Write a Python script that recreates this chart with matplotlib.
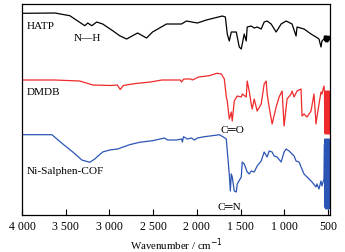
import matplotlib
matplotlib.use('Agg')
import matplotlib.pyplot as plt

# FTIR spectra (stacked, arbitrary units)
hatp_wn = [4000, 3624, 3453, 3282, 3248, 3202, 3145, 3077, 2963, 2883, 2803, 2678, 2575, 2507,
           2347, 2176, 2119, 1994, 1891, 1709, 1674, 1652, 1629, 1606, 1549, 1515, 1492, 1458,
           1435, 1424, 1378, 1344, 1310, 1264, 1230, 1196, 1150, 1093, 1036, 979, 911, 865, 854,
           774, 694, 637, 603, 580, 569, 546, 540, 535, 530, 525, 520, 515, 510, 505, 500, 495,
           490, 485, 480]
hatp_t = [200.7, 201, 198.3, 188.3, 191, 188.3, 192, 190, 183.3, 178.3, 175, 181, 176, 182,
          190, 190, 193, 191, 194, 198, 197, 180, 173, 182, 182, 167, 165, 180,
          173, 187, 188, 186, 187, 185, 192, 193, 190, 182, 190, 193, 190, 178, 187,
          185, 180, 177, 175, 167, 173, 175, 178, 173, 178, 172, 178, 173, 178, 172, 177, 173,
          178, 174, 177]

dmdb_wn = [4000, 3624, 3340, 3190, 2990, 2910, 2876, 2842, 2700, 2530, 2400, 2190, 2176, 2150,
           2070, 2050, 1980, 1860, 1770, 1720, 1686, 1663, 1652, 1629, 1606, 1595, 1572, 1538,
           1492, 1481, 1435, 1424, 1401, 1378, 1367, 1344, 1310, 1264, 1230, 1207, 1196, 1173,
           1139, 1093, 1059, 1025, 1002, 968, 922, 911, 888, 854, 808, 797, 774, 740, 694, 660,
           637, 626, 580, 569, 546, 540, 537, 534, 531, 528, 525, 522, 519, 516, 513, 510, 507,
           504, 501, 498, 495, 492, 489, 486, 483, 480]
dmdb_t = [134, 134, 133, 129, 128.5, 129, 124.5, 128.5, 130.5, 132, 134, 134, 132, 135,
          135, 134, 137, 138.3, 140.7, 140, 135, 117, 113, 95, 102, 93, 113, 118,
          117, 120, 117, 133, 123, 110, 105, 115, 103, 110, 130, 133, 120, 107,
          90, 107, 117, 123, 88, 115, 120, 123, 117, 123, 125, 98, 100, 97, 103, 120,
          90, 97, 122, 120, 128, 122, 82, 123, 80, 122, 81, 123, 80, 122, 82, 123, 80,
          122, 81, 123, 80, 122, 82, 123, 80, 122]

cof_wn = [4000, 3658, 3533, 3419, 3316, 3225, 3168, 3077, 2997, 2906, 2769, 2655, 2507, 2370,
          2336, 2233, 2176, 2165, 2153, 2108, 2062, 2028, 1994, 1914, 1823, 1743, 1697, 1663,
          1652, 1629, 1617, 1606, 1595, 1572, 1549, 1538, 1492, 1481, 1458, 1424, 1401, 1378,
          1344, 1310, 1264, 1230, 1196, 1173, 1139, 1116, 1082, 1036, 1002, 979, 945, 888, 865,
          831, 808, 774, 717, 683, 637, 626, 603, 580, 569, 546, 540, 537, 534, 531, 528, 525,
          522, 519, 516, 513, 510, 507, 504, 501, 498, 495, 492, 489, 486, 483, 480]
cof_t = [79.3, 79.3, 70, 62, 54, 51.7, 55, 62, 64, 65, 69.3, 71.7, 73.3, 76,
         74, 74, 75, 72, 77.3, 75, 76, 74, 76, 77.3, 78.3, 79.3, 77, 75,
         63, 40, 23, 40, 37, 23, 22, 30, 37, 52, 50, 42, 40, 43,
         42, 48, 53, 62, 57, 63, 62, 58, 57, 52, 62, 65, 63, 58, 53,
         52, 47, 40, 35, 32, 27, 30, 25, 33, 28, 35, 70, 8, 75, 6, 72, 5,
         75, 7, 73, 5, 75, 6, 72, 5, 75, 7, 73, 5, 75, 6, 72]

xticks = [4000, 3500, 3000, 2500, 2000, 1500, 1000, 500]
xtick_labels = ['4 000', '3 500', '3 000', '2 500', '2 000', '1 500', '1 000', '500']

plt.rcParams['font.family'] = ['Liberation Serif', 'DejaVu Serif']

fig = plt.figure(figsize=(3.45, 2.53), dpi=100)
ax = fig.add_axes([0.0638, 0.1443, 0.8927, 0.8359])

ax.plot(hatp_wn, hatp_t, color='black', lw=0.9)
ax.plot(dmdb_wn, dmdb_t, color='#f02a2a', lw=0.9)
ax.plot(cof_wn, cof_t, color='#2b55b5', lw=0.9)

ax.set_xlim(4000, 477)
ax.set_ylim(-1.5, 210)
ax.set_yticks([])
ax.set_xticks(xticks)
ax.set_xticklabels(xtick_labels)
ax.tick_params(axis='x', direction='in', length=4, width=0.8, labelsize=8.5, pad=3)
for s in ax.spines.values():
    s.set_linewidth(0.9)

ax.text(3950, 189, 'HATP', fontsize=8.1, va='center', ha='left')
ax.text(3250, 177, 'N\u2014H', fontsize=8.1, va='center', ha='center')
ax.text(3950, 123, 'DMDB', fontsize=8.1, va='center', ha='left')
ax.text(1590, 84, 'C\u2550O', fontsize=8.1, va='center', ha='center')
ax.text(3950, 43, 'Ni-Salphen-COF', fontsize=8.1, va='center', ha='left')
ax.text(1625, 7, 'C\u2550N', fontsize=8.1, va='center', ha='center')

ax.set_xlabel('Wavenumber / cm$^{-1}$', fontsize=7.8, labelpad=3)

plt.savefig('out.png', dpi=100)
